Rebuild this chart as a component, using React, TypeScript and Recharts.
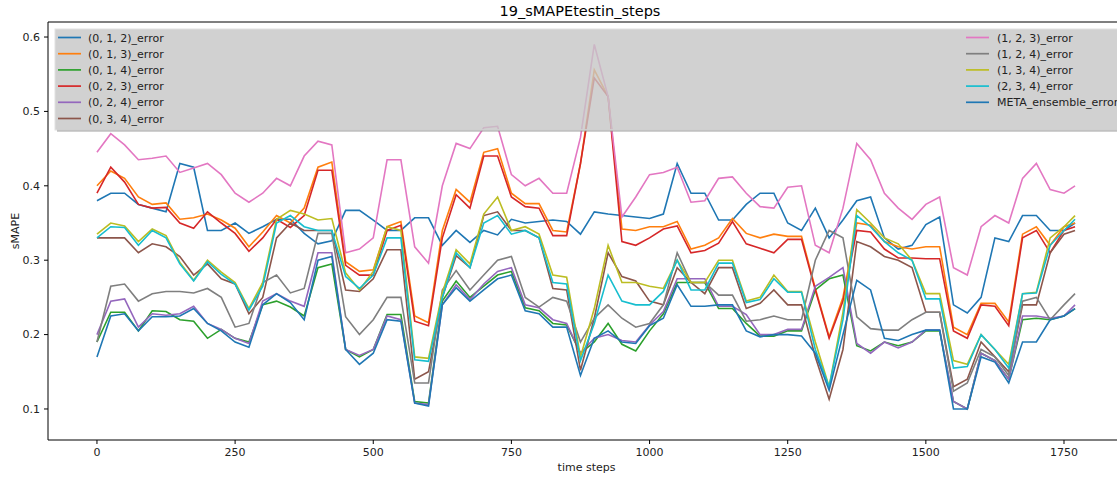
import { LineChart, Line, XAxis, YAxis } from "recharts";

// time step of each sample
const steps = [
  0, 25, 50, 75, 100, 125, 150, 175, 200, 225, 250, 275, 300, 325, 350, 375,
  400, 425, 450, 475, 500, 525, 550, 575, 600, 625, 650, 675, 700, 725, 750,
  775, 800, 825, 850, 875, 900, 925, 950, 975, 1000, 1025, 1050, 1075, 1100,
  1125, 1150, 1175, 1200, 1225, 1250, 1275, 1300, 1325, 1350, 1375, 1400,
  1425, 1450, 1475, 1500, 1525, 1550, 1575, 1600, 1625, 1650, 1675, 1700,
  1725, 1750, 1770,
];

const err012 = [
  0.38, 0.39, 0.39, 0.375, 0.37, 0.365, 0.43, 0.425, 0.34, 0.34, 0.35, 0.336,
  0.345, 0.355, 0.355, 0.336, 0.322, 0.326, 0.367, 0.367, 0.354, 0.34, 0.34,
  0.357, 0.357, 0.32, 0.34, 0.324, 0.34, 0.334, 0.355, 0.35, 0.352, 0.354,
  0.352, 0.335, 0.365, 0.362, 0.36, 0.358, 0.356, 0.362, 0.43, 0.39, 0.39,
  0.354, 0.354, 0.375, 0.39, 0.39, 0.35, 0.34, 0.37, 0.33, 0.354, 0.38, 0.385,
  0.33, 0.315, 0.32, 0.348, 0.358, 0.24, 0.229, 0.25, 0.33, 0.325, 0.36, 0.36,
  0.34, 0.34, 0.35,
];
const err013 = [
  0.4, 0.42, 0.41, 0.385, 0.375, 0.377, 0.355, 0.357, 0.362, 0.354, 0.343,
  0.318, 0.338, 0.36, 0.35, 0.37, 0.425, 0.432, 0.298, 0.285, 0.287, 0.345,
  0.352, 0.225, 0.216, 0.34, 0.395, 0.378, 0.445, 0.45, 0.39, 0.376, 0.376,
  0.34, 0.338, 0.43, 0.556, 0.52, 0.342, 0.34, 0.345, 0.345, 0.352, 0.315,
  0.32, 0.33, 0.356, 0.336, 0.33, 0.335, 0.332, 0.332, 0.262, 0.197, 0.25,
  0.35, 0.347, 0.325, 0.318, 0.315, 0.318, 0.318, 0.21, 0.2, 0.242, 0.242,
  0.217, 0.335, 0.345, 0.32, 0.345, 0.35,
];
const err014 = [
  0.19, 0.23, 0.23, 0.205, 0.232, 0.231, 0.22, 0.218, 0.195, 0.207, 0.195,
  0.19, 0.24, 0.245, 0.237, 0.225, 0.29, 0.295, 0.18, 0.17, 0.18, 0.227, 0.227,
  0.11, 0.108, 0.245, 0.272, 0.25, 0.265, 0.28, 0.285, 0.236, 0.232, 0.215,
  0.213, 0.175, 0.19, 0.215, 0.187, 0.178, 0.205, 0.228, 0.27, 0.27, 0.27,
  0.235, 0.235, 0.215, 0.198, 0.198, 0.205, 0.205, 0.26, 0.275, 0.28, 0.185,
  0.178, 0.19, 0.185, 0.19, 0.205, 0.205, 0.11, 0.1, 0.175, 0.165, 0.14, 0.22,
  0.222, 0.22, 0.225, 0.235,
];
const err023 = [
  0.39, 0.425, 0.405, 0.375, 0.37, 0.371, 0.35, 0.343, 0.365, 0.35, 0.336,
  0.312, 0.33, 0.355, 0.344, 0.36, 0.421, 0.421, 0.293, 0.28, 0.28, 0.34,
  0.347, 0.218, 0.212, 0.33, 0.388, 0.37, 0.44, 0.44, 0.385, 0.372, 0.37,
  0.333, 0.333, 0.43, 0.545, 0.52, 0.325, 0.32, 0.33, 0.342, 0.346, 0.31,
  0.313, 0.323, 0.352, 0.322, 0.316, 0.31, 0.328, 0.328, 0.26, 0.195, 0.245,
  0.34, 0.338, 0.315, 0.303, 0.303, 0.302, 0.302, 0.205, 0.195, 0.24, 0.238,
  0.212, 0.33, 0.34, 0.31, 0.34, 0.345,
];
const err024 = [
  0.2, 0.245, 0.248, 0.21, 0.228, 0.226, 0.228, 0.238, 0.215, 0.207, 0.195,
  0.188, 0.245, 0.255, 0.245, 0.238, 0.31, 0.31, 0.18, 0.172, 0.18, 0.225,
  0.22, 0.108, 0.106, 0.24, 0.267, 0.247, 0.268, 0.285, 0.29, 0.24, 0.236,
  0.22, 0.215, 0.175, 0.195, 0.2, 0.192, 0.19, 0.213, 0.231, 0.275, 0.275,
  0.275, 0.238, 0.238, 0.227, 0.2, 0.2, 0.207, 0.207, 0.265, 0.277, 0.29,
  0.188, 0.175, 0.19, 0.182, 0.19, 0.206, 0.206, 0.11, 0.1, 0.175, 0.165, 0.14,
  0.225, 0.225, 0.222, 0.225, 0.24,
];
const err034 = [
  0.33, 0.33, 0.33, 0.31, 0.322, 0.318, 0.305, 0.28, 0.295, 0.275, 0.268,
  0.228, 0.25, 0.33, 0.35, 0.34, 0.34, 0.34, 0.26, 0.258, 0.275, 0.314, 0.314,
  0.14, 0.15, 0.25, 0.306, 0.29, 0.36, 0.365, 0.34, 0.34, 0.33, 0.262, 0.26,
  0.152, 0.222, 0.31, 0.278, 0.272, 0.245, 0.24, 0.29, 0.27, 0.255, 0.29, 0.29,
  0.235, 0.242, 0.26, 0.24, 0.24, 0.17, 0.113, 0.18, 0.325, 0.318, 0.305, 0.3,
  0.29, 0.23, 0.23, 0.13, 0.14, 0.19, 0.17, 0.15, 0.24, 0.24, 0.31, 0.335,
  0.34,
];
const err123 = [
  0.445, 0.47, 0.455, 0.435, 0.437, 0.44, 0.418, 0.424, 0.43, 0.415, 0.39,
  0.378, 0.39, 0.41, 0.4, 0.44, 0.46, 0.455, 0.31, 0.315, 0.33, 0.435, 0.435,
  0.318, 0.296, 0.4, 0.457, 0.45, 0.478, 0.48, 0.415, 0.4, 0.41, 0.39, 0.39,
  0.465, 0.59, 0.52, 0.358, 0.385, 0.415, 0.418, 0.425, 0.378, 0.38, 0.41,
  0.412, 0.39, 0.372, 0.37, 0.398, 0.4, 0.32, 0.31, 0.37, 0.457, 0.435, 0.39,
  0.37, 0.355, 0.375, 0.385, 0.29, 0.28, 0.345, 0.36, 0.35, 0.41, 0.43, 0.395,
  0.39, 0.4,
];
const err124 = [
  0.19, 0.265, 0.268, 0.245, 0.255, 0.258, 0.258, 0.256, 0.262, 0.25, 0.21,
  0.215, 0.27, 0.28, 0.256, 0.262, 0.336, 0.336, 0.224, 0.2, 0.22, 0.25, 0.25,
  0.135, 0.135, 0.26, 0.286, 0.26, 0.28, 0.3, 0.305, 0.25, 0.237, 0.25, 0.245,
  0.19, 0.222, 0.24, 0.222, 0.21, 0.215, 0.24, 0.31, 0.27, 0.27, 0.253, 0.253,
  0.218, 0.22, 0.225, 0.22, 0.22, 0.3, 0.34, 0.33, 0.224, 0.208, 0.206, 0.206,
  0.22, 0.23, 0.23, 0.124, 0.135, 0.18, 0.17, 0.145, 0.245, 0.25, 0.22, 0.24,
  0.255,
];
const err134 = [
  0.335, 0.35, 0.346, 0.325, 0.342, 0.333, 0.297, 0.273, 0.3, 0.284, 0.27,
  0.235, 0.27, 0.355, 0.367, 0.362, 0.354, 0.356, 0.283, 0.26, 0.285, 0.345,
  0.34, 0.17, 0.168, 0.256, 0.314, 0.295, 0.362, 0.385, 0.34, 0.345, 0.335,
  0.28, 0.277, 0.17, 0.235, 0.32, 0.27, 0.27, 0.265, 0.262, 0.3, 0.27, 0.27,
  0.3, 0.3, 0.245, 0.25, 0.28, 0.258, 0.258, 0.19, 0.13, 0.23, 0.368, 0.35,
  0.33, 0.322, 0.3, 0.255, 0.255, 0.165, 0.16, 0.2, 0.18, 0.16, 0.255, 0.257,
  0.33, 0.345, 0.36,
];
const err234 = [
  0.33, 0.345, 0.344, 0.32, 0.34, 0.33, 0.295, 0.272, 0.298, 0.281, 0.268,
  0.233, 0.265, 0.35, 0.36, 0.345, 0.34, 0.34, 0.278, 0.262, 0.28, 0.33, 0.33,
  0.166, 0.164, 0.25, 0.31, 0.29, 0.35, 0.36, 0.335, 0.34, 0.33, 0.27, 0.268,
  0.165, 0.215, 0.28, 0.245, 0.24, 0.24, 0.258, 0.3, 0.26, 0.26, 0.296, 0.296,
  0.243, 0.247, 0.275, 0.257, 0.257, 0.18, 0.13, 0.22, 0.36, 0.345, 0.325,
  0.31, 0.3, 0.248, 0.248, 0.155, 0.157, 0.2, 0.18, 0.155, 0.255, 0.256, 0.32,
  0.34, 0.355,
];
const metaErr = [
  0.17, 0.225, 0.228, 0.205, 0.224, 0.224, 0.225, 0.235, 0.215, 0.205, 0.19,
  0.183, 0.24, 0.255, 0.243, 0.22, 0.3, 0.305, 0.18, 0.16, 0.175, 0.22, 0.218,
  0.108, 0.104, 0.24, 0.263, 0.245, 0.26, 0.275, 0.28, 0.232, 0.228, 0.21,
  0.21, 0.145, 0.195, 0.205, 0.19, 0.188, 0.212, 0.222, 0.267, 0.238, 0.238,
  0.24, 0.24, 0.205, 0.197, 0.2, 0.2, 0.198, 0.175, 0.125, 0.2, 0.273, 0.26,
  0.195, 0.192, 0.2, 0.206, 0.206, 0.1, 0.1, 0.17, 0.163, 0.135, 0.19, 0.19,
  0.22, 0.225, 0.235,
];

const xTicks = [0, 250, 500, 750, 1000, 1250, 1500, 1750];
const yTicks = [0.1, 0.2, 0.3, 0.4, 0.5, 0.6];

const series = [
  { key: "e012", name: "(0, 1, 2)_error", color: "#1f77b4", values: err012 },
  { key: "e013", name: "(0, 1, 3)_error", color: "#ff7f0e", values: err013 },
  { key: "e014", name: "(0, 1, 4)_error", color: "#2ca02c", values: err014 },
  { key: "e023", name: "(0, 2, 3)_error", color: "#d62728", values: err023 },
  { key: "e024", name: "(0, 2, 4)_error", color: "#9467bd", values: err024 },
  { key: "e034", name: "(0, 3, 4)_error", color: "#8c564b", values: err034 },
  { key: "e123", name: "(1, 2, 3)_error", color: "#e377c2", values: err123 },
  { key: "e124", name: "(1, 2, 4)_error", color: "#7f7f7f", values: err124 },
  { key: "e134", name: "(1, 3, 4)_error", color: "#bcbd22", values: err134 },
  { key: "e234", name: "(2, 3, 4)_error", color: "#17becf", values: err234 },
  { key: "meta", name: "META_ensemble_error", color: "#1f77b4", values: metaErr },
];

const data = steps.map((t, i) => {
  const row: Record<string, number> = { t };
  series.forEach((s) => {
    row[s.key] = s.values[i];
  });
  return row;
});

const FONT = "DejaVu Sans, sans-serif";
const W = 1125;
const H = 477;
const PLOT_LEFT = 48;
const PLOT_TOP = 22;
const PLOT_BOTTOM = 440;

const LegendBox = () => {
  const rowY = (i: number) => 37.5 + i * 16.2;
  const left = series.slice(0, 6);
  const right = series.slice(6);
  return (
    <g>
      {/* drop shadow along the lower edge */}
      <rect x={57} y={129} width={1080} height={2.5} fill="#8a8a8a" fillOpacity={0.8} />
      <rect
        x={55}
        y={29}
        width={1080}
        height={101}
        fill="#c6c6c6"
        fillOpacity={0.8}
        stroke="#e2e2e2"
        strokeWidth={1}
      />
      {left.map((s, i) => (
        <g key={s.key}>
          <line x1={58} x2={81} y1={rowY(i)} y2={rowY(i)} stroke={s.color} strokeWidth={1.7} />
          <text x={88} y={rowY(i) + 4} fontSize={11} fontFamily={FONT} fill="#222">
            {s.name}
          </text>
        </g>
      ))}
      {right.map((s, i) => (
        <g key={s.key}>
          <line x1={966} x2={989} y1={rowY(i)} y2={rowY(i)} stroke={s.color} strokeWidth={1.7} />
          <text x={997} y={rowY(i) + 4} fontSize={11} fontFamily={FONT} fill="#222">
            {s.name}
          </text>
        </g>
      ))}
    </g>
  );
};

export default function App() {
  return (
    <div
      style={{
        position: "fixed",
        left: 0,
        top: 0,
        width: 1117,
        height: 477,
        overflow: "hidden",
        background: "#fff",
      }}
    >
      <LineChart
        width={W}
        height={H}
        data={data}
        margin={{ top: PLOT_TOP, right: 0, left: 0, bottom: 0 }}
      >
        <XAxis
          dataKey="t"
          type="number"
          domain={[-88.6, 1860.4]}
          ticks={xTicks}
          allowDataOverflow
          height={H - PLOT_BOTTOM}
          tickSize={4}
          tickMargin={4}
          stroke="#000"
          tick={{ fontSize: 11, fontFamily: FONT, fill: "#222" }}
        />
        <YAxis
          type="number"
          domain={[0.0583, 0.6202]}
          ticks={yTicks}
          allowDataOverflow
          width={PLOT_LEFT}
          tickSize={4}
          tickMargin={4}
          stroke="#000"
          tickFormatter={(v: number) => v.toFixed(1)}
          tick={{ fontSize: 11, fontFamily: FONT, fill: "#222" }}
        />
        {series.map((s) => (
          <Line
            key={s.key}
            dataKey={s.key}
            name={s.name}
            type="linear"
            stroke={s.color}
            strokeWidth={1.6}
            dot={false}
            activeDot={false}
            isAnimationActive={false}
          />
        ))}
      </LineChart>
      <svg
        width={W}
        height={H}
        style={{ position: "absolute", left: 0, top: 0, pointerEvents: "none" }}
      >
        <line x1={PLOT_LEFT} x2={W} y1={PLOT_TOP} y2={PLOT_TOP} stroke="#000" strokeWidth={1} />
        <text
          x={580}
          y={16}
          textAnchor="middle"
          fontSize={14.5}
          fontFamily={FONT}
          fill="#000"
        >
          19_sMAPEtestin_steps
        </text>
        <text
          x={(PLOT_LEFT + W) / 2}
          y={471}
          textAnchor="middle"
          fontSize={11}
          fontFamily={FONT}
          fill="#222"
        >
          time steps
        </text>
        <text
          x={19}
          y={(PLOT_TOP + PLOT_BOTTOM) / 2}
          textAnchor="middle"
          fontSize={11}
          fontFamily={FONT}
          fill="#222"
          transform={`rotate(-90 19 ${(PLOT_TOP + PLOT_BOTTOM) / 2})`}
        >
          sMAPE
        </text>
        <LegendBox />
      </svg>
    </div>
  );
}
